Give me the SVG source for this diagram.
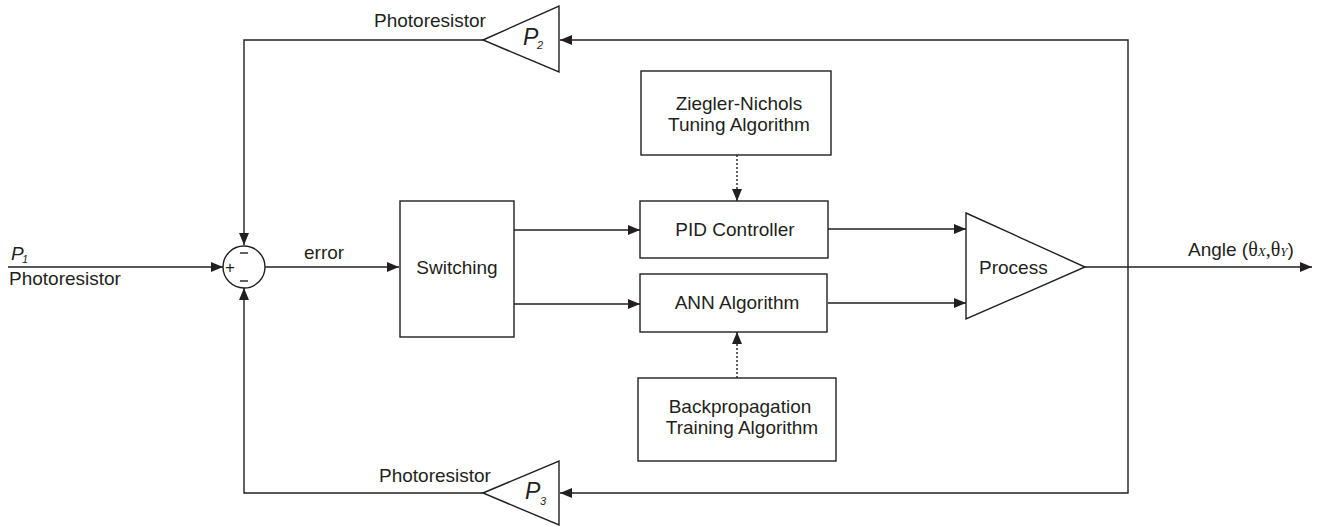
<svg xmlns="http://www.w3.org/2000/svg" width="1323" height="527" viewBox="0 0 1323 527">
  <style>
    .ln { fill: none; stroke: #231f20; stroke-width: 1.4; }
    .box { fill: #fff; stroke: #231f20; stroke-width: 1.4; }
    .dot { fill: none; stroke: #231f20; stroke-width: 1.4; stroke-dasharray: 2 2; }
    text { font-family: "Liberation Sans", Arial, sans-serif; font-size: 19px; fill: #231f20; }
    .c { text-anchor: middle; }
    .pv { font-style: italic; font-size: 23px; }
    .pv1 { font-style: italic; font-size: 19px; }
    .sub { font-style: italic; font-size: 11px; }
    .sgn { font-size: 17px; }
    .sym { font-family: "Liberation Serif", "Times New Roman", serif; font-size: 20px; }
    .symsub { font-family: "Liberation Serif", "Times New Roman", serif; font-style: italic; font-size: 13px; }
  </style>
  <defs>
    <marker id="arr" viewBox="0 0 12 10" refX="12" refY="5" markerWidth="12" markerHeight="10" markerUnits="userSpaceOnUse" orient="auto">
      <path d="M0,0 L12,5 L0,10 z" fill="#231f20"/>
    </marker>
  </defs>

  <!-- connectors -->
  <g id="connectors">
    <line class="ln" x1="8" y1="267" x2="223" y2="267" marker-end="url(#arr)"/>
    <line class="ln" x1="265" y1="267" x2="399" y2="267" marker-end="url(#arr)"/>
    <line class="ln" x1="514" y1="230" x2="640" y2="230" marker-end="url(#arr)"/>
    <line class="ln" x1="514" y1="304" x2="640" y2="304" marker-end="url(#arr)"/>
    <line class="ln" x1="828" y1="229" x2="966" y2="229" marker-end="url(#arr)"/>
    <line class="ln" x1="828" y1="303" x2="966" y2="303" marker-end="url(#arr)"/>
    <line class="ln" x1="1085" y1="267" x2="1312" y2="267" marker-end="url(#arr)"/>
    <line class="dot" x1="737" y1="155" x2="737" y2="201" marker-end="url(#arr)"/>
    <line class="dot" x1="737" y1="378" x2="737" y2="332" marker-end="url(#arr)"/>
    <!-- feedback paths -->
    <polyline class="ln" points="1128,267 1128,40 560,40" marker-end="url(#arr)"/>
    <polyline class="ln" points="1128,267 1128,493 560,493" marker-end="url(#arr)"/>
    <polyline class="ln" points="483,40 244,40 244,245" marker-end="url(#arr)"/>
    <polyline class="ln" points="483,493 244,493 244,288" marker-end="url(#arr)"/>
  </g>

  <g id="input">
    <text class="pv1" x="11" y="260">P</text>
    <text class="sub" x="22" y="263">1</text>
    <text x="9" y="285">Photoresistor</text>
  </g>

  <g id="sum">
    <circle class="box" cx="244" cy="267" r="21"/>
    <text class="sgn" x="225" y="273">+</text>
    <line class="ln" x1="240" y1="253" x2="248" y2="253"/>
    <line class="ln" x1="240" y1="281" x2="248" y2="281"/>
  </g>

  <g id="error-label">
    <text x="304" y="259">error</text>
  </g>

  <g id="switching">
    <rect class="box" x="400" y="201" width="114" height="136"/>
    <text class="c" x="457" y="274">Switching</text>
  </g>

  <g id="ziegler">
    <rect class="box" x="641" y="71" width="190" height="84"/>
    <text class="c" x="739" y="110">Ziegler-Nichols</text>
    <text class="c" x="739" y="131">Tuning Algorithm</text>
  </g>

  <g id="pid">
    <rect class="box" x="640" y="201" width="188" height="57"/>
    <text class="c" x="735" y="236">PID Controller</text>
  </g>

  <g id="ann">
    <rect class="box" x="640" y="274" width="187" height="58"/>
    <text class="c" x="737" y="309">ANN Algorithm</text>
  </g>

  <g id="backprop">
    <rect class="box" x="638" y="378" width="198" height="83"/>
    <text class="c" x="740" y="413">Backpropagation</text>
    <text class="c" x="742" y="434">Training Algorithm</text>
  </g>

  <g id="process">
    <polygon class="box" points="966,213 1085,267 966,319"/>
    <text x="979" y="274">Process</text>
  </g>

  <g id="output-label">
    <text x="1188" y="256">Angle (<tspan class="sym">θ</tspan><tspan class="symsub">X</tspan><tspan class="sym">,θ</tspan><tspan class="symsub">Y</tspan>)</text>
  </g>

  <g id="sensor-p2">
    <polygon class="box" points="483,40 559,6 559,72"/>
    <text class="pv" x="523" y="45">P</text>
    <text class="sub" x="537" y="49">2</text>
    <text x="374" y="27">Photoresistor</text>
  </g>

  <g id="sensor-p3">
    <polygon class="box" points="483,493 559,461 559,525"/>
    <text class="pv" x="525" y="499">P</text>
    <text class="sub" x="540" y="505">3</text>
    <text x="379" y="482">Photoresistor</text>
  </g>
</svg>
